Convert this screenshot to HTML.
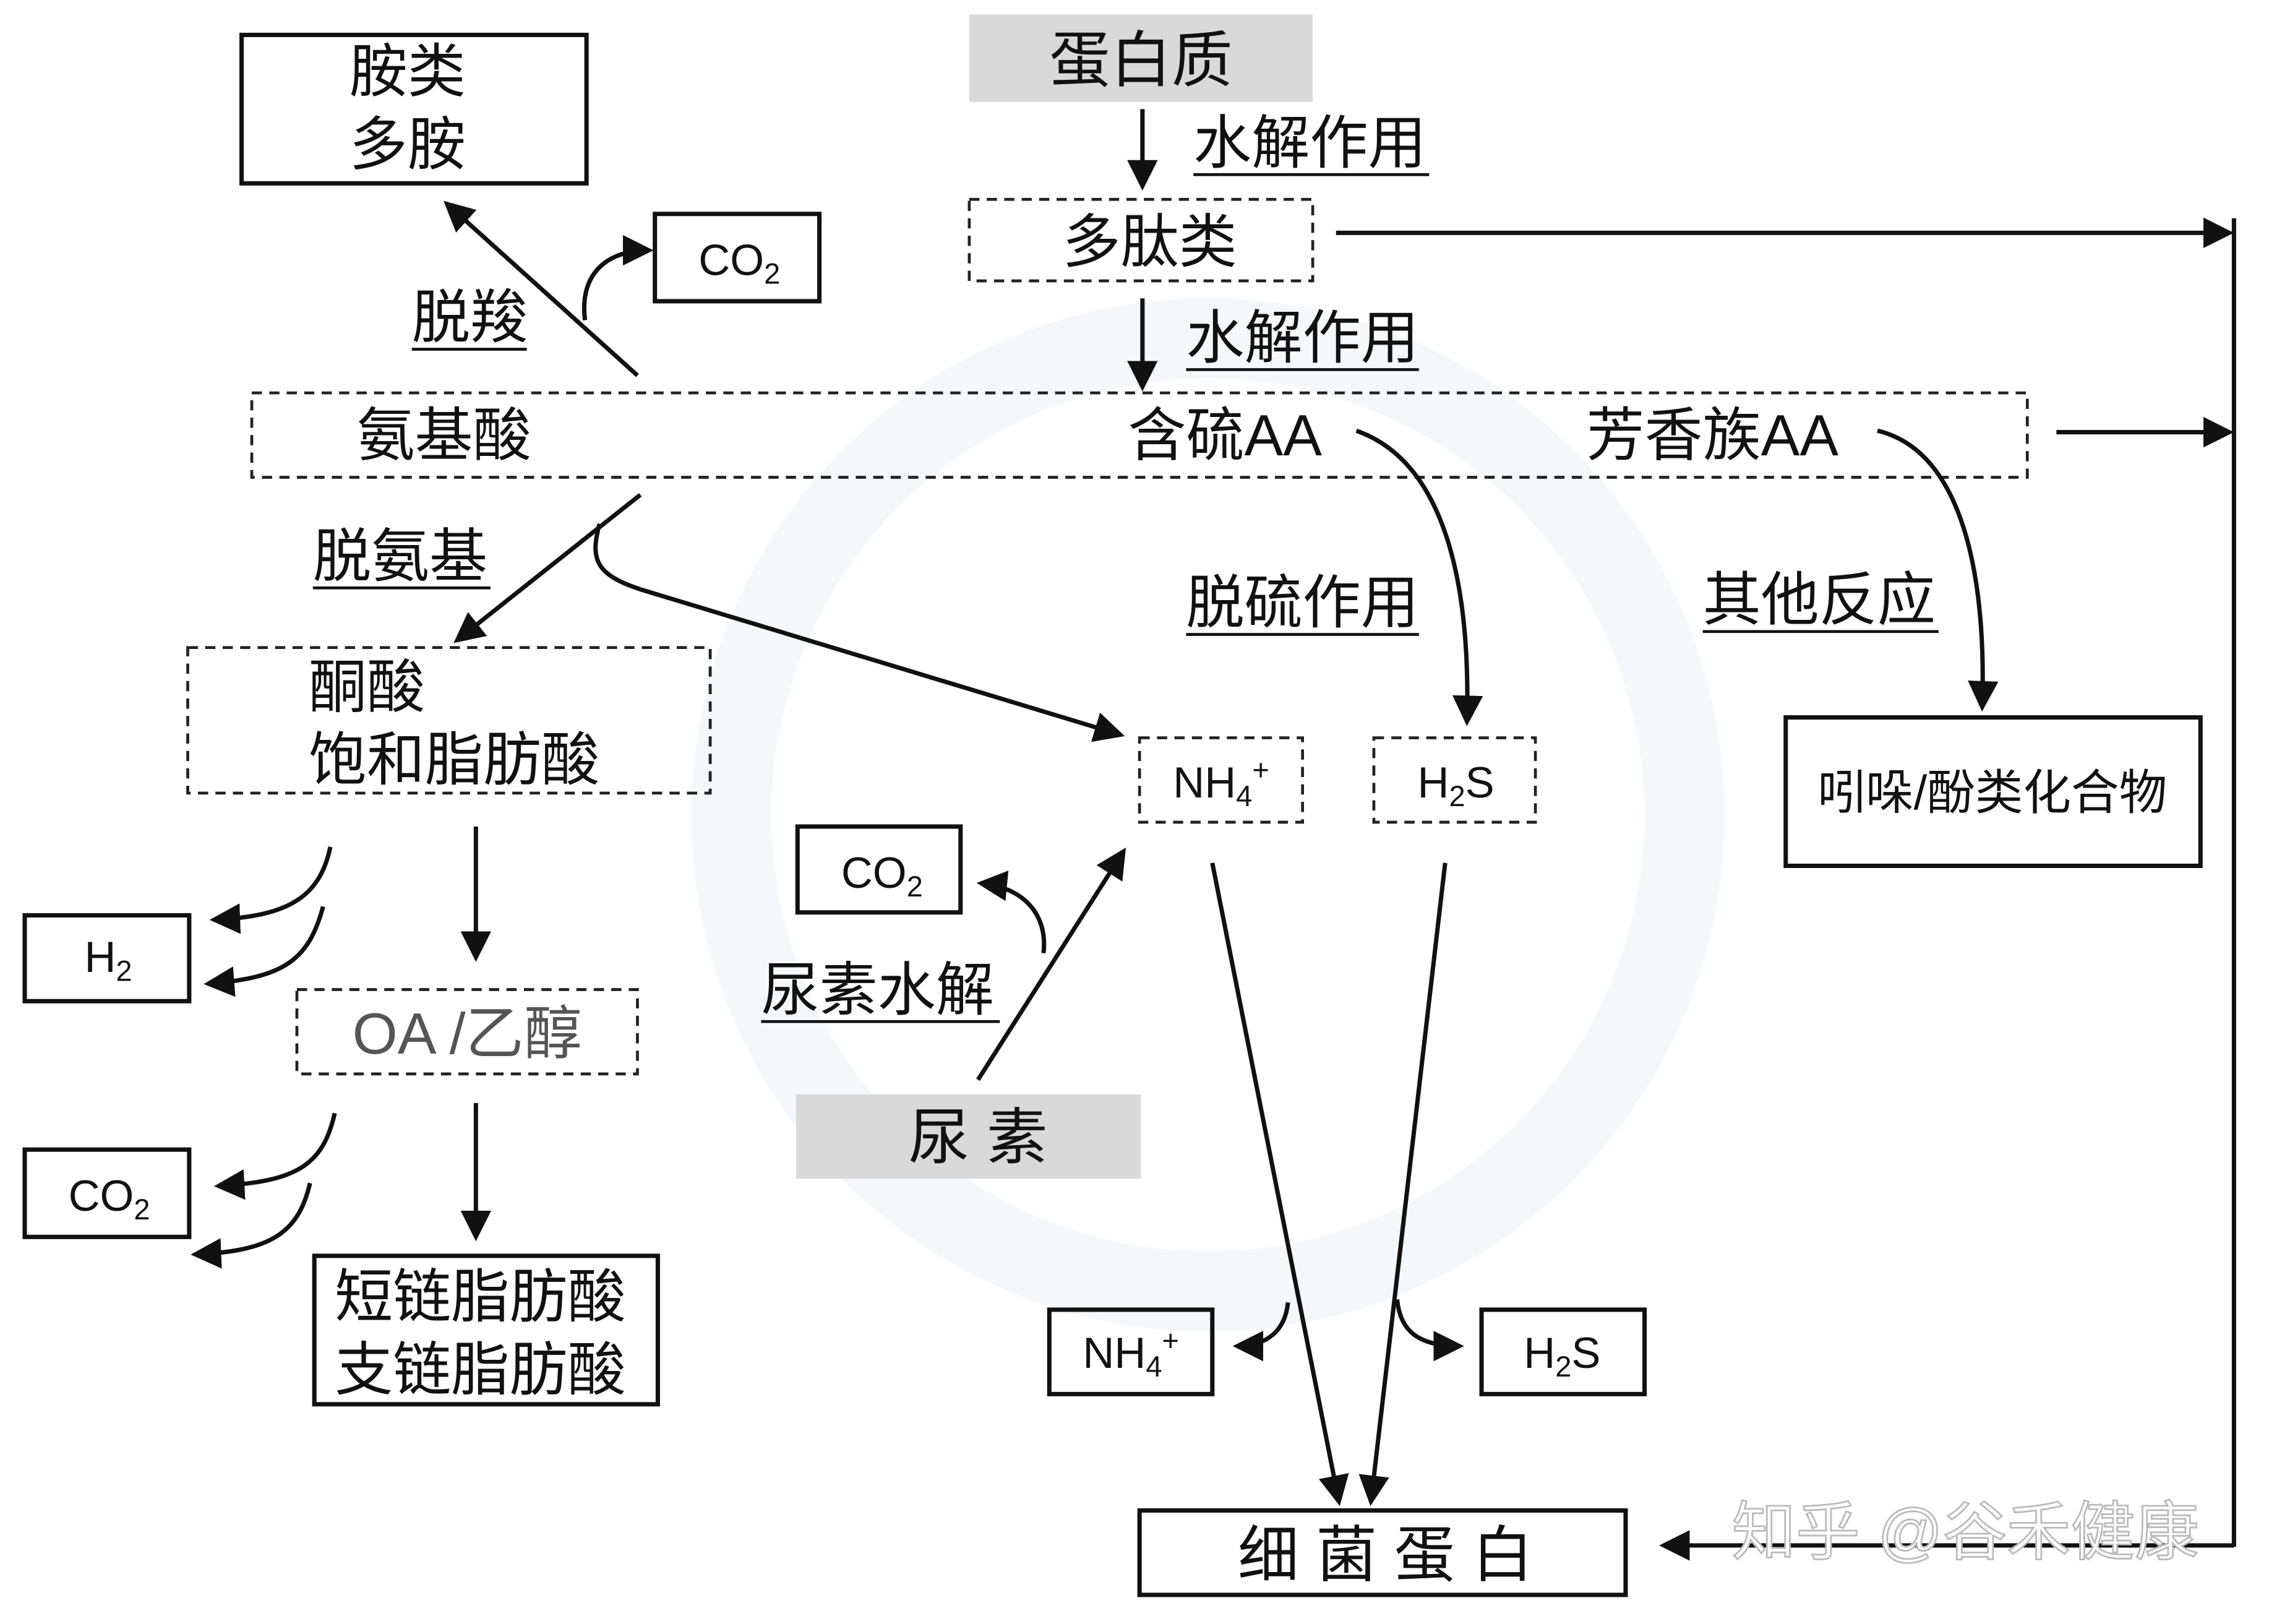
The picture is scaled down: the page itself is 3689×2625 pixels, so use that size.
<!DOCTYPE html>
<html><head><meta charset="utf-8"><style>
html,body{margin:0;padding:0;background:#fff;}
svg{display:block;}
text{font-family:"Liberation Sans","Noto Sans CJK SC",sans-serif;fill:#111;}
</style></head><body>
<svg width="3689" height="2625" viewBox="0 0 1568 1116" preserveAspectRatio="none" xmlns="http://www.w3.org/2000/svg">
<defs>
<marker id="a" markerWidth="8" markerHeight="8" refX="6" refY="4" orient="auto" markerUnits="strokeWidth">
<path d="M0,0.5 L7,4 L0,7.5 Z" fill="#111"/></marker>
</defs>
<circle cx="830" cy="560" r="355" fill="#f3f6f9" opacity="0.8"/>
<circle cx="830" cy="560" r="300" fill="#fff"/>
<g fill="none" stroke="#111" stroke-width="3">
<rect x="166" y="24" width="237" height="102"/>
<rect x="450" y="147" width="113" height="60"/>
<rect x="1227" y="493" width="285" height="102"/>
<rect x="548" y="568" width="112" height="59"/>
<rect x="17" y="629" width="113" height="59"/>
<rect x="17" y="790" width="113" height="60"/>
<rect x="216" y="863" width="236" height="102"/>
<rect x="721" y="900" width="112" height="58"/>
<rect x="1018" y="900" width="112" height="58"/>
<rect x="783" y="1038" width="334" height="58"/>
</g>
<g fill="none" stroke="#222" stroke-width="2" stroke-dasharray="7,5">
<rect x="666" y="137" width="236" height="56"/>
<rect x="173" y="270" width="1220" height="58"/>
<rect x="129" y="445" width="359" height="100"/>
<rect x="783" y="507" width="112" height="58"/>
<rect x="944" y="507" width="111" height="58"/>
<rect x="204" y="680" width="234" height="58"/>
</g>
<rect x="666" y="10" width="236" height="60" fill="#d9d9d9"/>
<rect x="547" y="752" width="237" height="58" fill="#d9d9d9"/>
<g fill="none" stroke="#111" stroke-width="3" marker-end="url(#a)">
<line x1="785" y1="75" x2="785" y2="128"/>
<line x1="785" y1="205" x2="785" y2="266"/>
<line x1="918" y1="160" x2="1532" y2="160"/>
<line x1="1413" y1="297" x2="1532" y2="297"/>
<line x1="438" y1="258" x2="307" y2="140"/>
<path d="M402,220 C398,190 415,172 446,172"/>
<line x1="440" y1="340" x2="314" y2="440"/>
<path d="M412,360 C405,385 410,395 440,405 L770,505"/>
<path d="M932,296 C1000,320 1010,420 1008,496"/>
<path d="M1290,296 C1350,310 1365,400 1362,486"/>
<path d="M717,655 C720,630 705,610 674,607"/>
<line x1="672" y1="742" x2="772" y2="585"/>
<path d="M227,582 C220,615 200,630 147,632"/>
<path d="M222,623 C212,660 195,672 143,676"/>
<line x1="327" y1="568" x2="327" y2="658"/>
<line x1="327" y1="758" x2="327" y2="850"/>
<path d="M230,765 C222,800 205,812 150,815"/>
<path d="M213,813 C205,848 185,860 134,862"/>
<line x1="833" y1="593" x2="920" y2="1032"/>
<line x1="993" y1="593" x2="942" y2="1032"/>
<path d="M885,895 C883,915 870,925 850,925"/>
<path d="M960,893 C962,915 975,925 1003,925"/>
<line x1="1535" y1="1062" x2="1143" y2="1062" />
</g>
<line x1="1535" y1="150" x2="1535" y2="1063" stroke="#111" stroke-width="3"/>
<g font-size="40">
<text x="784" y="56" text-anchor="middle" font-size="42">蛋白质</text>
<text x="820" y="112">水解作用</text>
<text x="790" y="180" text-anchor="middle">多肽类</text>
<text x="815" y="246">水解作用</text>
<text x="245" y="313">氨基酸</text>
<text x="775" y="313">含硫AA</text>
<text x="1090" y="313">芳香族AA</text>
<text x="240" y="63">胺类</text>
<text x="240" y="113">多胺</text>
<text x="283" y="232">脱羧</text>
<text x="215" y="396">脱氨基</text>
<text x="212" y="486">酮酸</text>
<text x="212" y="536">饱和脂肪酸</text>
<text x="815" y="428">脱硫作用</text>
<text x="1170" y="426">其他反应</text>
<text x="523" y="694">尿素水解</text>
<text x="672" y="796" text-anchor="middle" font-size="42">尿 素</text>
<text x="321" y="724" text-anchor="middle" style="fill:#555">OA /乙醇</text>
<text x="230" y="905">短链脂肪酸</text>
<text x="230" y="955">支链脂肪酸</text>
<text x="952" y="1083" text-anchor="middle" font-size="42">细 菌 蛋 白</text>
</g>
<g stroke="#111" stroke-width="2">
<line x1="820" y1="120" x2="982" y2="120"/>
<line x1="815" y1="254" x2="975" y2="254"/>
<line x1="283" y1="240" x2="362" y2="240"/>
<line x1="215" y1="404" x2="337" y2="404"/>
<line x1="815" y1="436" x2="975" y2="436"/>
<line x1="1170" y1="434" x2="1332" y2="434"/>
<line x1="523" y1="702" x2="687" y2="702"/>
</g>
<text x="1369" y="556" text-anchor="middle" font-size="33">吲哚/酚类化合物</text>
<g font-size="30">
<text x="480" y="189">CO<tspan font-size="20" dy="6">2</tspan></text>
<text x="578" y="610">CO<tspan font-size="20" dy="6">2</tspan></text>
<text x="47" y="832">CO<tspan font-size="20" dy="6">2</tspan></text>
<text x="58" y="668">H<tspan font-size="20" dy="6">2</tspan></text>
<text x="806" y="548">NH<tspan font-size="20" dy="6">4</tspan><tspan font-size="20" dy="-18">+</tspan></text>
<text x="974" y="548">H<tspan font-size="20" dy="6">2</tspan><tspan dy="-6">S</tspan></text>
<text x="744" y="940">NH<tspan font-size="20" dy="6">4</tspan><tspan font-size="20" dy="-18">+</tspan></text>
<text x="1047" y="940">H<tspan font-size="20" dy="6">2</tspan><tspan dy="-6">S</tspan></text>
</g>
<text x="1190" y="1068" font-size="44" style="fill:#fff;stroke:#bbb;stroke-width:1.2">知乎 @谷禾健康</text>
</svg>
</body></html>
